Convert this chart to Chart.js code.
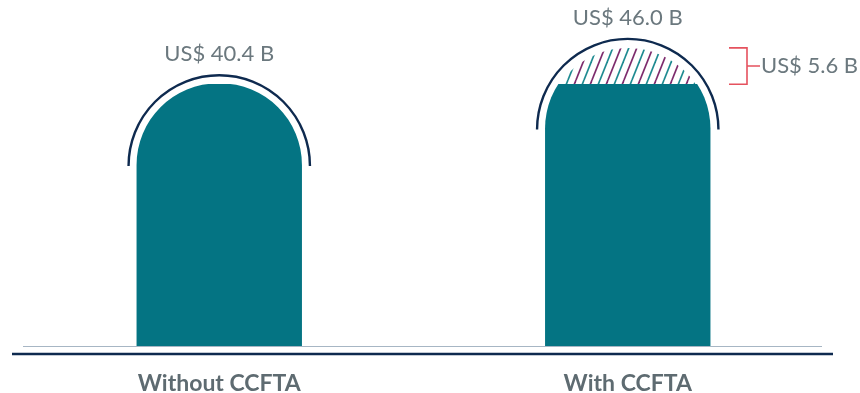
<!DOCTYPE html>
<html>
<head>
<meta charset="utf-8">
<script src="https://cdn.jsdelivr.net/npm/chart.js@4.4.1/dist/chart.umd.min.js"></script>
<style>
  html, body { margin: 0; padding: 0; background: #ffffff; }
  #wrap { width: 860px; height: 393px; position: relative; }
</style>
</head>
<body>
<div id="wrap"><canvas id="c"></canvas></div>
<script>
// ---- data ----
const categories = ['Without CCFTA', 'With CCFTA'];
const baseValues = [40.4, 40.4];     // solid teal part
const totalValues = [40.4, 46.0];    // full dome height
const gainValues = [0, 5.6];         // hatched increase
const valueLabels = ['US$ 40.4 B', 'US$ 46.0 B'];
const gainLabel = 'US$ 5.6 B';
const yMax = 50;

const TEAL = '#047483';
const NAVY = '#0e2a4f';
const PURPLE = '#7d2a6c';
const HATCH_TEAL = '#1d8a90';
const RED = '#e5525e';
const TEXT = '#6b787e';
const FONT = 'Lato, "Open Sans", sans-serif';

// hatch pattern
function makeHatch() {
  const W = 16, H = 40;
  const cv = document.createElement('canvas');
  cv.width = W; cv.height = H;
  const g = cv.getContext('2d');
  g.lineWidth = 1.7;
  const draw = (x0, col) => {
    g.strokeStyle = col;
    g.beginPath();
    g.moveTo(x0, H);
    g.lineTo(x0 + W, 0);
    g.stroke();
  };
  [-16, 0, 16].forEach(x => draw(x, PURPLE));
  [-8, 8].forEach(x => draw(x, HATCH_TEAL));
  return g.createPattern(cv, 'repeat');
}
const hatch = makeHatch();

const hatchData = totalValues.map((v, i) => gainValues[i] > 0 ? v : null);

const domeRadius = {topLeft: 400, topRight: 400, bottomLeft: 0, bottomRight: 0};

function tealFill(ctx) {
  const chart = ctx.chart;
  const area = chart.chartArea;
  if (!area || !chart.scales.y) return TEAL;
  const y = chart.scales.y;
  const i = ctx.dataIndex;
  const y0 = y.getPixelForValue(0);
  const yb = y.getPixelForValue(baseValues[i]);
  const top = area.top - 5;
  const f = Math.min(1, Math.max(0, (y0 - yb) / (y0 - top)));
  const grad = chart.ctx.createLinearGradient(0, y0, 0, top);
  grad.addColorStop(0, TEAL);
  grad.addColorStop(f, TEAL);
  grad.addColorStop(Math.min(1, f + 0.0001), 'rgba(255,255,255,0)');
  grad.addColorStop(1, 'rgba(255,255,255,0)');
  return grad;
}

const decorPlugin = {
  id: 'decor',
  beforeDatasetsDraw(chart) {
    const c = chart.ctx;
    const y0 = chart.scales.y.getPixelForValue(0);
    c.save();
    c.strokeStyle = '#a7b6c4';
    c.lineWidth = 1.2;
    c.beginPath();
    c.moveTo(23, y0 + 0.5); c.lineTo(822, y0 + 0.5);
    c.stroke();
    c.strokeStyle = NAVY;
    c.lineWidth = 2.6;
    c.beginPath();
    c.moveTo(12, y0 + 8); c.lineTo(833, y0 + 8);
    c.stroke();
    c.restore();
  },
  afterDatasetsDraw(chart) {
    const c = chart.ctx;
    const ys = chart.scales.y;
    const meta = chart.getDatasetMeta(0);
    c.save();
    meta.data.forEach((bar, i) => {
      const half = bar.width / 2;
      const topY = ys.getPixelForValue(totalValues[i]);
      const cy = topY + half;
      const r = half + 9;
      c.strokeStyle = NAVY;
      c.lineWidth = 2.4;
      c.beginPath();
      c.arc(bar.x, cy, r, Math.PI, 2 * Math.PI);
      c.stroke();
      c.fillStyle = TEXT;
      c.font = '400 22px ' + FONT;
      c.textAlign = 'center';
      c.textBaseline = 'middle';
      c.fillText(valueLabels[i], bar.x, cy - r - 21);
    });
    // bracket
    const i = gainValues.findIndex(v => v > 0);
    if (i >= 0) {
      const yT = ys.getPixelForValue(totalValues[i]);
      const yB = ys.getPixelForValue(baseValues[i]);
      const xb = 747;
      c.strokeStyle = RED;
      c.lineWidth = 1.6;
      c.beginPath();
      c.moveTo(729, yT); c.lineTo(xb, yT); c.lineTo(xb, yB); c.lineTo(729, yB);
      c.moveTo(xb, (yT + yB) / 2); c.lineTo(760, (yT + yB) / 2);
      c.stroke();
      c.fillStyle = TEXT;
      c.font = '400 22px ' + FONT;
      c.textAlign = 'left';
      c.textBaseline = 'middle';
      c.fillText(gainLabel, 761, (yT + yB) / 2);
    }
    c.restore();
  }
};

new Chart(document.getElementById('c'), {
  type: 'bar',
  data: {
    labels: categories,
    datasets: [
      {
        label: 'Base',
        data: totalValues,
        backgroundColor: tealFill,
        borderRadius: domeRadius,
        borderSkipped: false,
        grouped: false,
        inflateAmount: 1,
        order: 0
      },
      {
        label: 'Gain',
        data: hatchData,
        backgroundColor: hatch,
        borderRadius: domeRadius,
        borderSkipped: false,
        grouped: false,
        inflateAmount: 0,
        order: 1
      }
    ]
  },
  plugins: [decorPlugin],
  options: {
    responsive: true,
    maintainAspectRatio: false,
    animation: false,
    events: [],
    layout: { padding: { left: 15, right: 28, top: 22, bottom: 0 } },
    categoryPercentage: 1,
    barPercentage: 0.4,
    plugins: { legend: { display: false }, tooltip: { enabled: false } },
    scales: {
      x: {
        grid: { display: false, drawTicks: false },
        border: { display: false },
        afterFit(scale) { scale.height = 47; },
        ticks: {
          color: '#5e6b71',
          padding: 24,
          font: { family: FONT, size: 23, weight: 'bold' }
        }
      },
      y: {
        display: false,
        min: 0,
        max: yMax
      }
    }
  }
});
</script>
</body>
</html>
